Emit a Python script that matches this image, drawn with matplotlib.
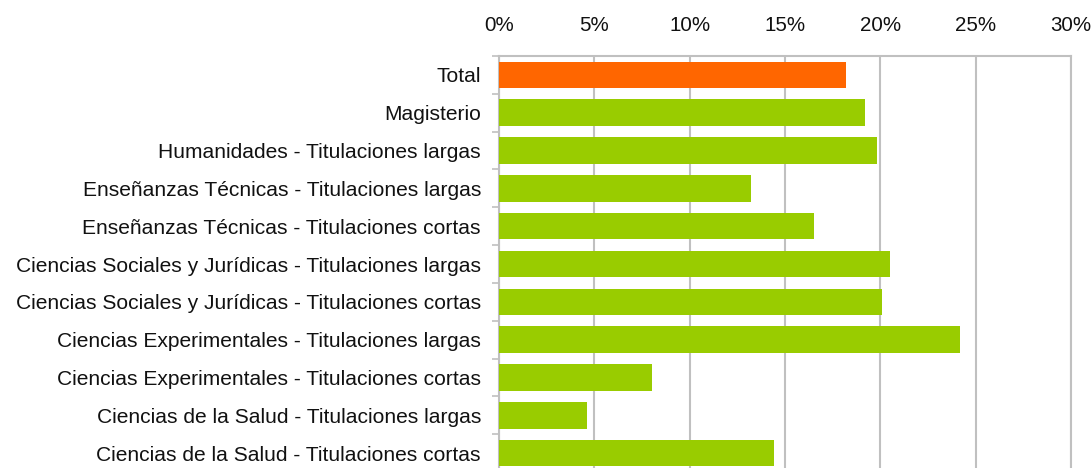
import matplotlib as mpl
import matplotlib.pyplot as plt
import numpy as np

mpl.rcParams['font.family'] = ['Liberation Sans', 'DejaVu Sans']

categories = [
    'Total',
    'Magisterio',
    'Humanidades - Titulaciones largas',
    'Enseñanzas Técnicas - Titulaciones largas',
    'Enseñanzas Técnicas - Titulaciones cortas',
    'Ciencias Sociales y Jurídicas - Titulaciones largas',
    'Ciencias Sociales y Jurídicas - Titulaciones cortas',
    'Ciencias Experimentales - Titulaciones largas',
    'Ciencias Experimentales - Titulaciones cortas',
    'Ciencias de la Salud - Titulaciones largas',
    'Ciencias de la Salud - Titulaciones cortas',
]
values = [18.2, 19.2, 19.8, 13.2, 16.5, 20.5, 20.1, 24.2, 8.0, 4.6, 14.4]
xticks = [0, 5, 10, 15, 20, 25, 30]

ORANGE = '#FF6600'
GREEN = '#99CC00'
GRID = '#C0C0C0'

fig = plt.figure(figsize=(10.92, 4.68), dpi=100)
ax = fig.add_axes([499 / 1092, -4 / 468, 572 / 1092, 416 / 468])

y = np.arange(len(categories))
colors = [ORANGE] + [GREEN] * (len(categories) - 1)
ax.barh(y, values, height=0.7, color=colors, zorder=3)

ax.set_xlim(0, 30)
ax.set_ylim(len(categories) - 0.5, -0.5)
ax.set_xticks(xticks)
ax.set_xticklabels(['%d%%' % t for t in xticks])
ax.xaxis.tick_top()
ax.tick_params(axis='x', length=0, pad=15, labelsize=14.8, labelcolor='#111111')
ax.grid(axis='x', color=GRID, linewidth=1.5, zorder=0)

ax.set_yticks(y)
ax.set_yticklabels(categories)
ax.set_yticks(np.arange(-0.5, len(categories), 1), minor=True)
ax.tick_params(axis='y', which='major', length=0, pad=13, labelsize=15.1, labelcolor='#111111')
ax.tick_params(axis='y', which='minor', length=5, width=1.2, color=GRID)

for side in ['left', 'top', 'right']:
    ax.spines[side].set_color(GRID)
    ax.spines[side].set_linewidth(1.5)
ax.spines['bottom'].set_visible(False)

fig.savefig('out.png', dpi=100)
